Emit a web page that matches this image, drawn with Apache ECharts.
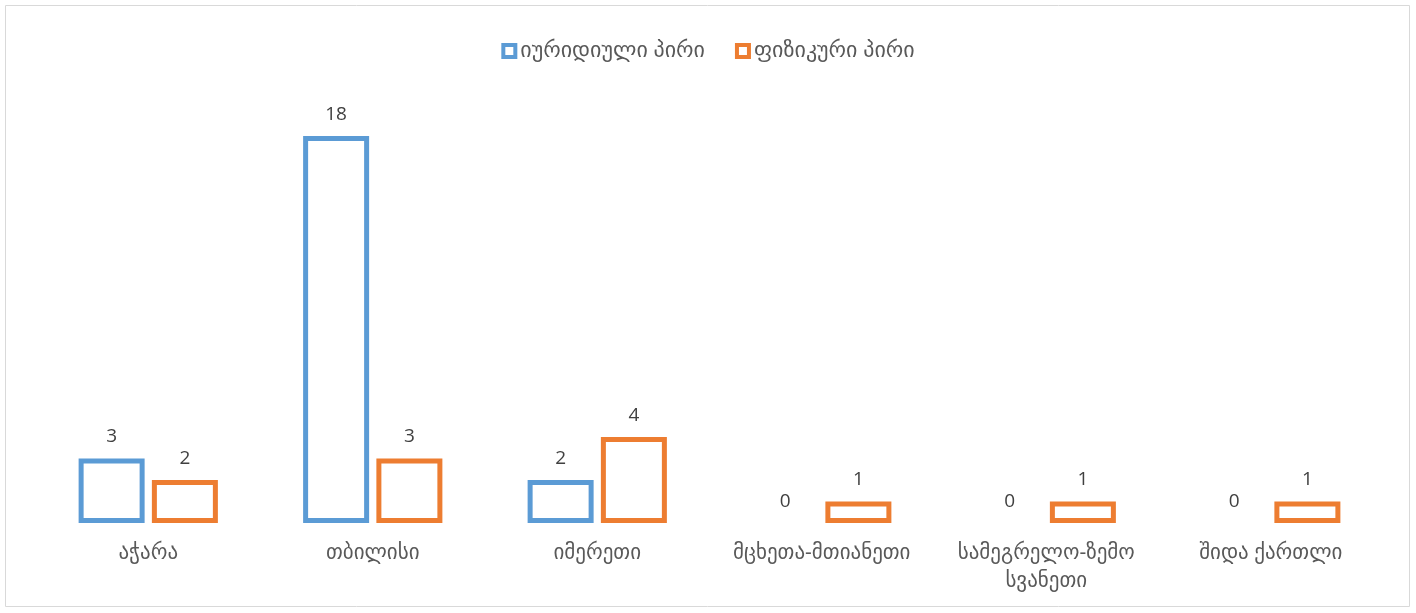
<!DOCTYPE html>
<html><head><meta charset="utf-8">
<script src="https://cdn.jsdelivr.net/npm/echarts@6/dist/echarts.min.js"></script>
<style>html,body{margin:0;padding:0;background:#fff}#c{width:1416px;height:613px}</style>
</head><body><div id="c"></div>
<script>
const categories = ["აჭარა", "თბილისი", "იმერეთი", "მცხეთა-მთიანეთი", "სამეგრელო-ზემო სვანეთი", "შიდა ქართლი"];
const seriesNames = ["იურიდიული პირი", "ფიზიკური პირი"];
const legalValues = [3, 18, 2, 0, 0, 0];
const physicalValues = [2, 3, 4, 1, 1, 1];
const colors = ["#5B9BD5", "#ED7D31"];
const FONT = '"Open Sans", "DejaVu Sans", sans-serif';

function mk(vals) {
  return vals.map(v => v === 0 ? {value: v, itemStyle: {borderWidth: 0, color: 'rgba(0,0,0,0)'}} : {value: v});
}
const chart = echarts.init(document.getElementById('c'), null, {renderer: 'canvas'});
chart.setOption({
  animation: false,
  graphic: [{type: 'rect', shape: {x: 5.5, y: 5.5, width: 1404, height: 601}, style: {fill: 'none', stroke: '#d9d9d9', lineWidth: 1}, silent: true}],
  legend: {
    top: 35, left: 'center', itemWidth: 12, itemHeight: 12, itemGap: 30,
    icon: 'rect',
    data: seriesNames.map((n, i) => ({name: n, itemStyle: {color: '#fff', borderColor: colors[i], borderWidth: 4}})),
    textStyle: {color: '#595959', fontSize: 22, fontFamily: FONT}
  },
  grid: {left: 36, right: 33, top: 93, bottom: 90, containLabel: false},
  xAxis: {
    type: 'category', data: categories,
    axisLine: {show: false}, axisTick: {show: false},
    axisLabel: {color: '#595959', fontSize: 21, fontFamily: FONT, margin: 16, interval: 0, lineHeight: 28,
      formatter: s => s.length > 16 ? s.replace(' ', '\n') : s}
  },
  yAxis: {type: 'value', min: 0, max: 20, show: false, splitLine: {show: false}},
  series: [legalValues, physicalValues].map((vals, i) => ({
    name: seriesNames[i], type: 'bar', data: mk(vals),
    barWidth: 66, barGap: '11%',
    itemStyle: {color: '#fff', borderColor: colors[i], borderWidth: 5},
    label: {show: true, position: 'top', distance: 12, color: '#404040', fontSize: 19, fontFamily: FONT},
  }))
});
</script></body></html>
